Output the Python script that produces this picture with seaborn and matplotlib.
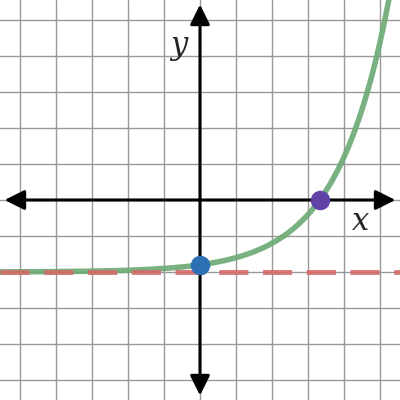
import numpy as np
import matplotlib
matplotlib.use("Agg")
import matplotlib.pyplot as plt
import seaborn as sns
import pandas as pd

a = 0.2
b = 2.0
k = -2.0
xs = np.linspace(-5.6, 5.6, 400)
df = pd.DataFrame({"x": xs, "y": a * b**xs + k})
pts_x = [0.0, np.log(-k / a) / np.log(b)]
pts_y = [a + k, 0.0]
pt_colors = ["#2d70b3", "#6042a6"]

sns.set_style("white")
fig = plt.figure(figsize=(4, 4), dpi=100)
ax = fig.add_axes([0, 0, 1, 1])
L = 5.55
ax.set_xlim(-L, L); ax.set_ylim(-L, L)
for v in range(-5, 6):
    ax.axvline(v, color="#999999", lw=1, zorder=0)
    ax.axhline(v, color="#999999", lw=1, zorder=0)
ax.annotate("", xy=(5.5, 0), xytext=(-5.5, 0),
            arrowprops=dict(arrowstyle="<|-|>", color="black", lw=2.2, mutation_scale=30))
ax.annotate("", xy=(0, 5.5), xytext=(0, -5.5),
            arrowprops=dict(arrowstyle="<|-|>", color="black", lw=2.2, mutation_scale=30))
sns.lineplot(data=df, x="x", y="y", color="#6aaa72", lw=4, alpha=0.9, ax=ax, zorder=3)
ax.axhline(k, color="#d46a6a", lw=3.5, ls=(0, (6, 3)), alpha=0.9, zorder=4)
for px, py, c in zip(pts_x, pts_y, pt_colors):
    ax.scatter([px], [py], s=170, color=c, zorder=5)
ax.text(4.45, -0.6, "x", fontsize=22, family="DejaVu Serif", style="italic", ha="center", va="center")
ax.text(-0.6, 4.3, "y", fontsize=22, family="DejaVu Serif", style="italic", ha="center", va="center")
ax.set_xlabel(""); ax.set_ylabel("")
ax.set_xticks([]); ax.set_yticks([])
for s in ax.spines.values():
    s.set_visible(False)
fig.savefig("out.png", dpi=100)
